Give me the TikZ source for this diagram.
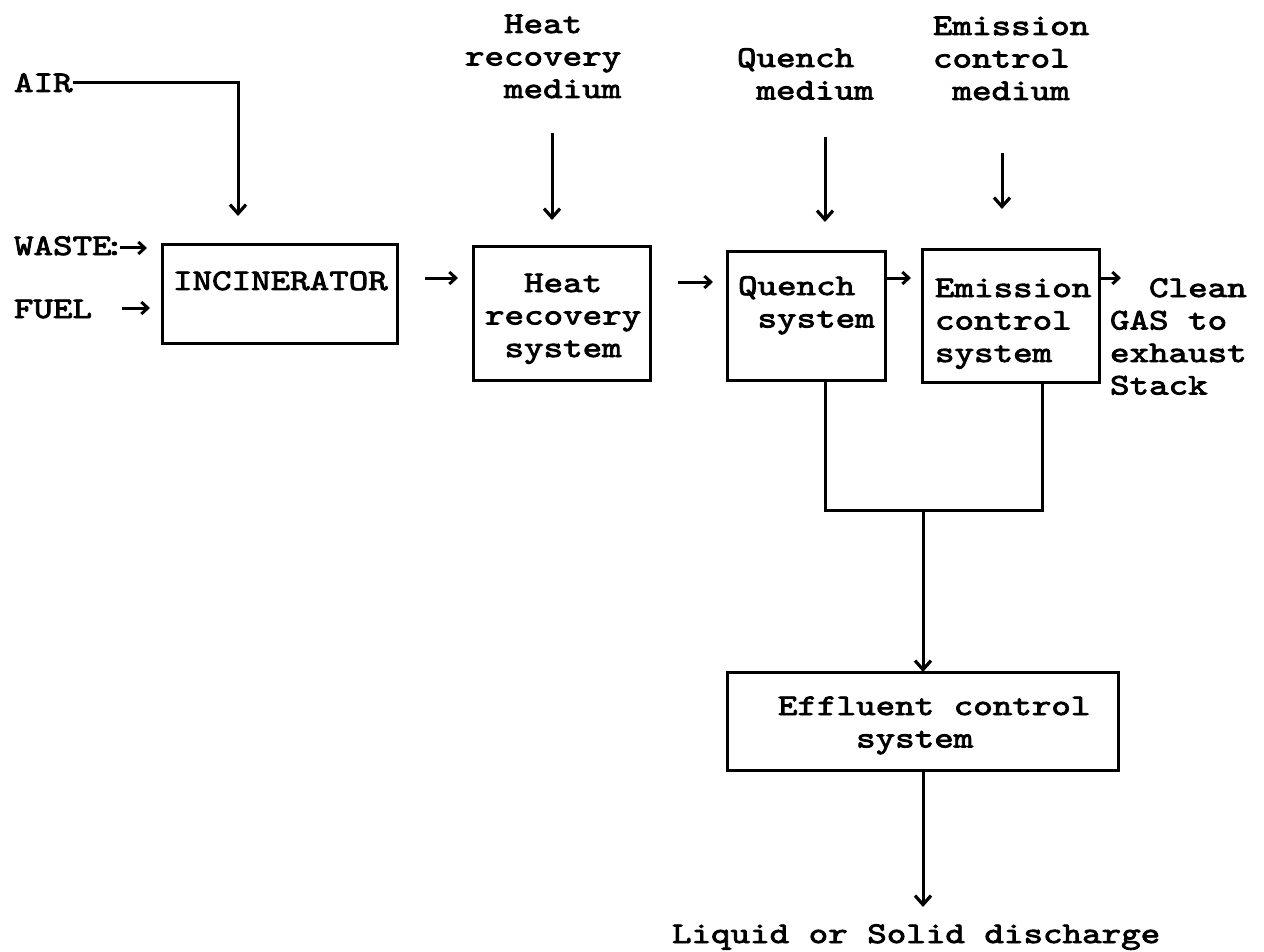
\documentclass[tikz,border=0pt]{standalone}
\usepackage{fontspec}
\usetikzlibrary{arrows.meta}
\newfontfamily\courfam{lmmono10-regular.otf}[FakeStretch=1.24, FakeBold=2.8]
\newcommand\hp[1]{\hphantom{#1}}
\newcommand\lns[1]{\begin{tabular}[t]{@{}l@{}}#1\end{tabular}}
\tikzset{
  txt/.style={inner sep=0pt, outer sep=0pt, anchor=base west,
    font={\courfam\fontsize{30}{32.5}\selectfont}},
  box/.style={draw, line width=3pt, inner sep=0pt, outer sep=0pt},
  arr/.style={line width=3pt, -{Straight Barb[length=9pt,width=16pt,line width=3.2pt]}},
  sarr/.style={line width=3pt, -{Straight Barb[length=6.5pt,width=12pt,line width=3pt]}},
  ln/.style={line width=3pt}
}
\begin{document}
\begin{tikzpicture}[x=1pt,y=-1pt]
\useasboundingbox (0,0) rectangle (1264,952);
% boxes
\node[box, minimum width=235pt, minimum height=98pt] (inc) at (279.5,294) {};
\node[box, minimum width=177pt, minimum height=133pt] (hr) at (561.5,313.5) {};
\node[box, minimum width=158pt, minimum height=129pt] (q) at (806,316) {};
\node[box, minimum width=177pt, minimum height=132pt] (e) at (1011,316) {};
\node[box, minimum width=391pt, minimum height=98pt] (eff) at (923,721) {};
% texts
\node[txt] (air) at (14,92) {AIR};
\node[txt] (waste) at (14,255) {WASTE\kern-7pt:};
\node[txt] (fuel) at (14,318) {FUEL};
\node[txt] (inct) at (173,290) {INCINERATOR};
\node[txt] (hrm) at (465,33) {\lns{\hp{xx}Heat\\recovery\\\hp{xx}medium}};
\node[txt] (hrt) at (485,292) {\lns{\hp{xx}Heat\\recovery\\\hp{x}system}};
\node[txt] (qm) at (737,67) {\lns{Quench\\\hp{x}medium}};
\node[txt] (qt) at (738,295) {\lns{Quench\\\hp{x}system}};
\node[txt] (em) at (933,35) {\lns{Emission\\control\\\hp{x}medium}};
\node[txt] (et) at (935,297) {\lns{Emission\\control\\system}};
\node[txt] (clean) at (1110,297) {\lns{\hp{xx}Clean\\GAS to\\exhaust\\Stack}};
\node[txt] (efft) at (778,715) {\lns{Effluent control\\\hp{xxxx}system}};
\node[txt] (disch) at (672,943) {Liquid or Solid discharge};
% coordinates
\coordinate (airend) at (238,216);
\coordinate (ws) at (120,248); \coordinate (we) at (147,248);
\coordinate (fs) at (122,308); \coordinate (fe) at (150,308);
\coordinate (a1s) at (425,278); \coordinate (a1e) at (458,278);
\coordinate (a2s) at (678,282); \coordinate (a2e) at (713,282);
\coordinate (a3e) at (911,278);
\coordinate (a4e) at (1121,278);
\coordinate (hrs) at (552,133); \coordinate (hre) at (552,220);
\coordinate (qs) at (825,137); \coordinate (qe) at (825,222);
\coordinate (es) at (1002,153); \coordinate (ee) at (1002,209);
\coordinate (jq) at (825,510); \coordinate (je) at (1042,510);
\coordinate (jm) at (923,510);
\coordinate (dend) at (923,907);
% connectors
\draw[arr] (air.east) -| (airend);
\draw[sarr] (ws) -- (we);
\draw[sarr] (fs) -- (fe);
\draw[sarr] (a1s) -- (a1e);
\draw[sarr] (a2s) -- (a2e);
\draw[sarr] (q.east |- a3e) -- (a3e);
\draw[sarr] (e.east |- a4e) -- (a4e);
\draw[arr] (hrs) -- (hre);
\draw[arr] (qs) -- (qe);
\draw[arr] (es) -- (ee);
\draw[ln] (q.south -| jq) -- (jq) -- (je) -- (e.south -| je);
\draw[arr] (jm) -- (eff.north -| jm);
\draw[arr] (eff.south -| dend) -- (dend);
\end{tikzpicture}
\end{document}
